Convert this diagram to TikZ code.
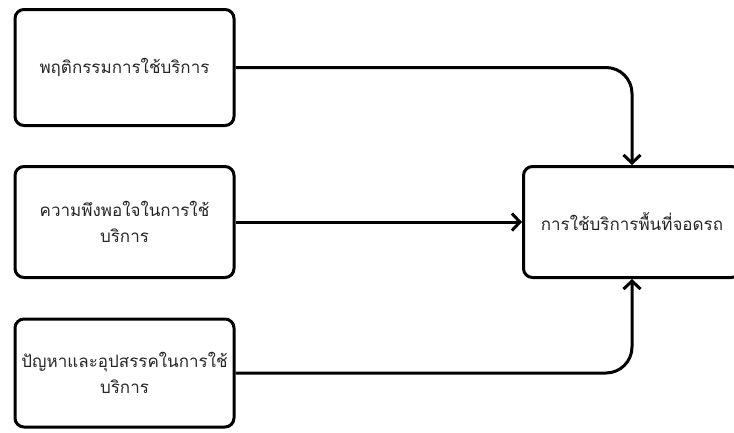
\documentclass[tikz,border=0pt]{standalone}
\usepackage{fontspec}
\newfontfamily\thaifont[Script=Thai]{Loma}
\usepackage{tikz}
\usetikzlibrary{arrows.meta}
\usetikzlibrary{positioning}
\tikzstyle{factor}=[draw,line width=3pt,rounded corners=9pt,align=center,text=black!85,font=\thaifont\fontsize{17}{26}\selectfont,inner sep=0pt]
\tikzstyle{flow}=[draw,line width=3pt,-{Straight Barb[length=8pt,width=17pt,line width=3pt]},rounded corners=26pt]

\begin{document}
\begin{tikzpicture}[x=1pt,y=-1pt]
	\clip (0,0) rectangle (734,432);
	\node[factor, minimum width=219, minimum height=116] (beh) at (124.5,67.5) {พฤติกรรมการใช้บริการ};
	\node[factor, minimum width=219, minimum height=111] (sat) at (124.5,222) {ความพึงพอใจในการใช้\\บริการ};
	\node[factor, minimum width=219, minimum height=108] (prob) at (124.5,373) {ปัญหาและอุปสรรคในการใช้\\บริการ};

	\node[factor, minimum width=217, minimum height=111] (use) at (632,222) {การใช้บริการพื้นที่จอดรถ};

	\draw[flow] (beh.east) -| (use.north);
	\draw[flow] (sat) -- (use);
	\draw[flow] (prob.east) -| (use.south);
\end{tikzpicture}
\end{document}
